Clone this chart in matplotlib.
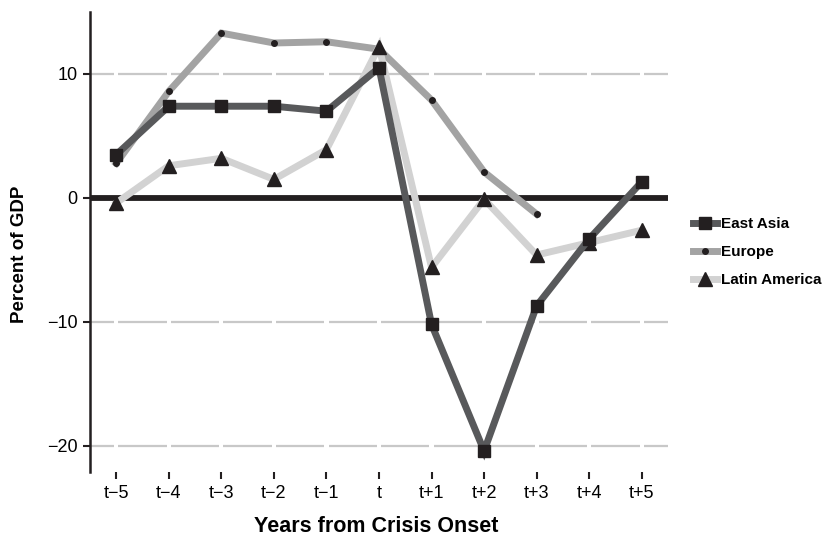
import matplotlib
matplotlib.use("Agg")
import matplotlib.pyplot as plt
import numpy as np

plt.rcParams['font.family'] = ['Liberation Sans', 'DejaVu Sans']

categories = ["t\u22125", "t\u22124", "t\u22123", "t\u22122", "t\u22121", "t",
              "t+1", "t+2", "t+3", "t+4", "t+5"]
east_asia = [3.5, 7.4, 7.4, 7.4, 7.0, 10.5, -10.2, -20.4, -8.7, -3.3, 1.3]
europe = [2.8, 8.6, 13.3, 12.5, 12.6, 12.0, 7.9, 2.1, -1.3]
latin_america = [-0.4, 2.6, 3.2, 1.5, 3.9, 12.2, -5.6, -0.1, -4.6, -3.6, -2.6]
yticks = [-20, -10, 0, 10]
ytick_labels = ["\u221220", "\u221210", "0", "10"]

fig = plt.figure(figsize=(8.27, 5.40), dpi=100)
ax = fig.add_axes([90/827, 1-472/540, (668-90)/827, (472-12)/540])

x = np.arange(len(categories))
mk = '#231f20'

# gridlines drawn as segments with small gaps at each category
for yv in [-20, -10, 10]:
    for i in range(-1, len(categories)):
        a = max(i + 0.04, -0.5)
        b = min(i + 1 - 0.04, len(categories) - 0.5)
        ax.plot([a, b], [yv, yv], color='#c8c8c8', lw=1.6, zorder=1, solid_capstyle='butt')
ax.axhline(0, color='#231f20', lw=4.2, zorder=2)

ax.plot(x[:len(europe)], europe, color='#a3a3a3', lw=5, marker='o', ms=4,
        mfc=mk, mec=mk, zorder=3, label='Europe', solid_joinstyle='miter')
ax.plot(x, latin_america, color='#d2d2d2', lw=5, marker='^', ms=10.5,
        mfc=mk, mec=mk, zorder=4, label='Latin America', solid_joinstyle='miter')
ax.plot(x, east_asia, color='#58595b', lw=5, marker='s', ms=8,
        mfc=mk, mec=mk, zorder=5, label='East Asia', solid_joinstyle='miter')

ax.set_xlim(-0.5, len(categories) - 0.5)
ax.set_ylim(-22.1, 15.0)
ax.set_xticks(x)
ax.set_xticklabels(categories, fontsize=13)
ax.set_yticks(yticks)
ax.set_yticklabels(ytick_labels, fontsize=13)
ax.tick_params(axis='x', length=5, width=1.5, color='#231f20', pad=4.5)
ax.tick_params(axis='y', length=5, width=1.5, color='#231f20', pad=4)
for s in ['top', 'right', 'bottom']:
    ax.spines[s].set_visible(False)
ax.spines['left'].set_linewidth(1.8)
ax.spines['left'].set_color('#231f20')

fig.text(376/827, 1 - 527/540, "Years from Crisis Onset",
         ha='center', va='center', fontsize=15.5, fontweight='bold')
fig.text(20/827, 1 - 254/540, "Percent of GDP", rotation=90,
         ha='center', va='center', fontsize=13.5, fontweight='bold')

handles, labels = ax.get_legend_handles_labels()
order = [2, 0, 1]
leg = fig.legend([handles[i] for i in order], [labels[i] for i in order],
                 loc='center left', bbox_to_anchor=(691/827, 1 - 252/540),
                 frameon=False, handlelength=1.6, handletextpad=0.25,
                 labelspacing=0.92, borderaxespad=0, borderpad=0.1,
                 prop={'weight': 'bold', 'size': 11})

fig.savefig("out.png", dpi=100)
